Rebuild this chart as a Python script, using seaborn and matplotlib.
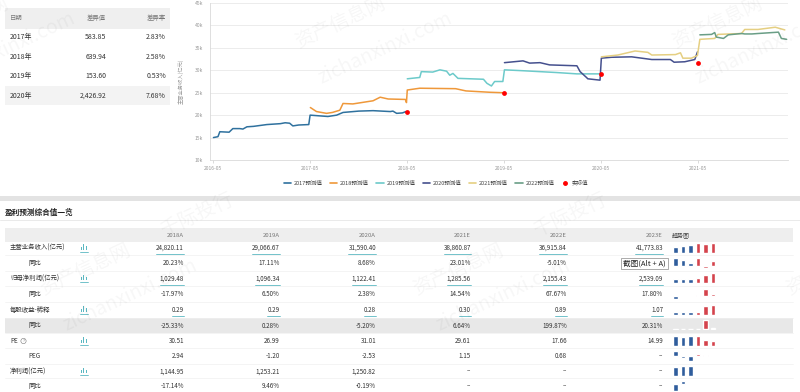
"""
盈利预测页面截图复刻: 主营业务收入预测走势 + 盈利预测综合值一览
"""

import pandas as pd
import matplotlib
matplotlib.use("Agg")
import matplotlib.pyplot as plt
import matplotlib.dates as mdates
from matplotlib.lines import Line2D
from matplotlib.patches import Rectangle
import seaborn as sns

sns.set_theme(style="white")
plt.rcParams['font.family'] = ['Noto Sans CJK SC', 'DejaVu Sans']

# 左上角差异表
diff_years = ["2017年", "2018年", "2019年", "2020年"]
diff_values = ["583.85", "639.94", "153.60", "2,426.92"]
diff_rates = ["2.83%", "2.58%", "0.53%", "7.68%"]

# 各年度预测值走势 (亿元)
fc2017_dates = ["2016-05-03", "2016-05-20", "2016-05-27", "2016-07-01", "2016-07-15", "2016-08-10",
                "2016-08-22", "2016-09-06", "2016-10-01", "2016-11-20", "2017-01-10", "2017-01-28",
                "2017-02-14", "2017-02-26", "2017-03-20", "2017-04-27", "2017-05-02", "2017-07-08",
                "2017-08-10", "2017-09-03", "2017-11-01", "2017-12-25", "2018-02-28", "2018-03-10",
                "2018-03-24", "2018-04-15", "2018-04-28"]
fc2017_vals = [15000, 15200, 16300, 16200, 17000, 17000, 16900, 17400, 17500, 17900, 18100, 18300,
               18200, 17600, 17800, 17900, 20000, 19700, 20000, 20600, 20900, 21000, 20800, 20900,
               20400, 20500, 20800]

fc2018_dates = ["2017-05-03", "2017-05-26", "2017-07-03", "2017-07-25", "2017-08-22", "2017-09-03",
                "2017-10-10", "2017-12-25", "2018-01-21", "2018-02-20", "2018-04-26", "2018-04-30",
                "2018-05-03", "2018-06-19", "2018-11-01", "2018-12-10", "2019-03-10", "2019-04-28"]
fc2018_vals = [21700, 20800, 20400, 20600, 21100, 22600, 22500, 23200, 24000, 23600, 23500, 22800,
               25600, 26000, 25900, 25400, 25100, 25000]

fc2019_dates = ["2018-05-03", "2018-06-19", "2018-06-25", "2018-08-07", "2018-09-03", "2018-09-28",
                "2018-10-10", "2018-10-22", "2018-11-10", "2019-02-14", "2019-02-27", "2019-03-16",
                "2019-03-28", "2019-04-28", "2019-05-04", "2019-07-13", "2019-11-16", "2020-02-01",
                "2020-04-28"]
fc2019_vals = [28100, 28400, 29700, 29600, 30100, 29800, 28900, 29300, 28200, 28000, 27100, 26500,
               27500, 27500, 30100, 29900, 29500, 29200, 29200]

fc2020_dates = ["2019-05-04", "2019-07-13", "2019-08-07", "2019-09-15", "2019-10-21", "2020-02-01",
                "2020-02-13", "2020-03-08", "2020-03-13", "2020-04-28", "2020-05-03", "2020-06-10",
                "2020-08-25", "2020-11-09", "2021-01-18", "2021-02-01", "2021-03-13", "2021-04-20",
                "2021-04-30"]
fc2020_vals = [31700, 32100, 31600, 31700, 31200, 31000, 29700, 28400, 28100, 27800, 32700, 32900,
               33000, 32400, 32400, 31800, 31900, 32400, 34100]

fc2021_dates = ["2020-05-03", "2020-07-04", "2020-09-07", "2020-10-25", "2020-11-09", "2021-02-06",
                "2021-02-25", "2021-03-06", "2021-04-07", "2021-04-30", "2021-05-09", "2021-07-04",
                "2021-07-16", "2021-10-13", "2021-10-25", "2021-12-14", "2022-02-17", "2022-03-25"]
fc2021_vals = [33000, 33400, 34300, 34000, 33400, 33500, 33900, 32700, 32700, 33300, 36900, 37100,
               38000, 38200, 39100, 39100, 39600, 39000]

fc2022_dates = ["2021-05-09", "2021-06-22", "2021-07-04", "2021-07-10", "2021-08-06", "2021-08-24",
                "2021-10-13", "2021-10-25", "2021-11-21", "2021-12-14", "2022-03-01", "2022-03-12",
                "2022-04-01"]
fc2022_vals = [37900, 38000, 38400, 37400, 37100, 37900, 38200, 38100, 38100, 38200, 38500, 37100,
               36900]

actual_dates = ["2018-05-01", "2019-05-01", "2020-05-01", "2021-05-01"]
actual_vals = [20700, 24900, 29200, 31700]

series_names = ["2017预测值", "2018预测值", "2019预测值", "2020预测值", "2021预测值", "2022预测值"]
series_colors = ["#2f719e", "#ef983a", "#6ccaca", "#45508e", "#e5cf82", "#6a9e86"]
x_ticks = ["2016-05", "2017-05", "2018-05", "2019-05", "2020-05", "2021-05"]
y_ticks = [10000, 15000, 20000, 25000, 30000, 35000, 40000, 45000]

# 盈利预测综合值一览
periods = ["2018A", "2019A", "2020A", "2021E", "2022E", "2023E"]
revenue = [24820.11, 29066.67, 31590.40, 38860.87, 36915.84, 41773.83]
revenue_yoy = [20.23, 17.11, 8.68, 23.01, -5.01, 13.16]
net_profit = [1029.48, 1096.34, 1122.41, 1285.56, 2155.43, 2539.09]
net_profit_yoy = [-17.97, 6.50, 2.38, 14.54, 67.67, 17.80]
eps = [0.29, 0.29, 0.28, 0.30, 0.89, 1.07]
eps_yoy = [-25.33, 0.28, -5.20, 6.64, 199.87, 20.31]
pe = [30.51, 26.99, 31.01, 29.61, 17.66, 14.99]
peg = [2.94, -1.20, -2.53, 1.15, 0.68, None]
profit = [1144.95, 1253.21, 1250.82, None, None, None]
profit_yoy = [-17.14, 9.46, -0.19, None, None, None]

row_names = ["主营业务收入(亿元)", "同比", "归母净利润(亿元)", "同比", "每股收益-稀释", "同比",
             "PE", "PEG", "净利润(亿元)", "同比"]
row_data = [revenue, revenue_yoy, net_profit, net_profit_yoy, eps, eps_yoy, pe, peg, profit, profit_yoy]
row_pct = [False, True, False, True, False, True, False, False, False, True]


def fx(x):
    return x / 800


def fy(y):
    return 1 - y / 392


fig = plt.figure(figsize=(8, 3.92), dpi=100)
fig.patch.set_facecolor("white")

# 背景层 (像素坐标)
bg = fig.add_axes([0, 0, 1, 1])
bg.set_xlim(0, 800)
bg.set_ylim(392, 0)
bg.axis("off")

text_dark = "#333333"
text_gray = "#777777"

# 左上表格
bg.add_patch(Rectangle((5, 8), 165, 21, color="#efefef", lw=0))
bg.add_patch(Rectangle((5, 86), 165, 19, color="#f3f3f3", lw=0))
bg.text(10, 18, "日期", fontsize=4.6, color=text_gray, va="center")
bg.text(106, 18, "差异值", fontsize=4.6, color=text_gray, va="center", ha="right")
bg.text(166, 18, "差异率", fontsize=4.6, color=text_gray, va="center", ha="right")
for i, (yr, dv, dr) in enumerate(zip(diff_years, diff_values, diff_rates)):
    yy = 37 + i * 19.6
    bg.text(10, yy, yr, fontsize=5, color=text_dark, va="center")
    bg.text(106, yy, dv, fontsize=5, color=text_dark, va="center", ha="right")
    bg.text(166, yy, dr, fontsize=5, color=text_dark, va="center", ha="right")

# 分隔条
bg.add_patch(Rectangle((0, 196), 800, 5, color="#e3e3e3", lw=0))
bg.plot([0, 800], [220, 220], color="#e6e6e6", lw=0.6)

# 走势图
ax = fig.add_axes([fx(210), fy(160), 578 / 800, 157 / 392])
ax.set_facecolor("none")

frames = []
for name, d, v in zip(series_names,
                      [fc2017_dates, fc2018_dates, fc2019_dates, fc2020_dates, fc2021_dates, fc2022_dates],
                      [fc2017_vals, fc2018_vals, fc2019_vals, fc2020_vals, fc2021_vals, fc2022_vals]):
    frames.append(pd.DataFrame({"date": pd.to_datetime(d), "value": v, "series": name}))
df = pd.concat(frames, ignore_index=True)

sns.lineplot(data=df, x="date", y="value", hue="series", palette=dict(zip(series_names, series_colors)),
             estimator=None, sort=False, linewidth=1.1, ax=ax, legend=False)
sns.scatterplot(x=pd.to_datetime(actual_dates), y=actual_vals, color="#ff0000", s=12, linewidth=0,
                ax=ax, zorder=5)

ax.set_xlim(pd.Timestamp("2016-04-20"), pd.Timestamp("2022-04-06"))
ax.set_ylim(10000, 45000)
ax.set_yticks(y_ticks)
ax.set_yticklabels([f"{v // 1000}k" for v in y_ticks])
ax.set_xticks(pd.to_datetime(x_ticks))
ax.xaxis.set_major_formatter(mdates.DateFormatter("%Y-%m"))
ax.grid(axis="y", color="#e9e9e9", lw=0.6)
ax.tick_params(axis="x", labelsize=3.6, colors="#cccccc", labelcolor="#999999", length=2.5, width=0.5, pad=2, bottom=True)
ax.tick_params(axis="y", labelsize=3.6, labelcolor="#999999", length=0, pad=5)
ax.set_xlabel("")
ax.set_ylabel("主营业务收入(亿元)", fontsize=3.8, color="#999999")
ax.yaxis.set_label_coords(-0.045, 0.5)
for s in ["top", "right"]:
    ax.spines[s].set_visible(False)
for s in ["left", "bottom"]:
    ax.spines[s].set_color("#d9d9d9")
    ax.spines[s].set_linewidth(0.6)

handles = [Line2D([], [], color=c, lw=1.2) for c in series_colors]
handles.append(Line2D([], [], color="#ff0000", marker="o", lw=0, markersize=2.5))
fig.legend(handles, series_names + ["实际值"], loc="center", bbox_to_anchor=(fx(436), fy(183)),
           ncol=7, frameon=False, fontsize=4, handlelength=1.3, columnspacing=1.35, handletextpad=0.5,
           labelcolor="#444444")

# 盈利预测综合值一览
bg.text(5, 212, "盈利预测综合值一览", fontsize=5.5, fontweight="bold", color="#222222", va="center")
bg.add_patch(Rectangle((5, 228), 788, 14, color="#eeeeee", lw=0))
col_right = [184, 279.5, 376, 471, 567, 663]
for p, cx in zip(periods, col_right):
    bg.text(cx, 235, p, fontsize=4.3, color=text_gray, va="center", ha="right")
bg.text(671.5, 235, "趋势图", fontsize=4.3, color="#444444", va="center")

row_y = [248, 263, 278.5, 294, 310, 325.5, 341, 356, 371.5, 386]
row_indent = [False, True, False, True, False, True, False, True, False, True]
row_icon = [True, False, True, False, True, False, True, False, True, False]
row_underline = [True, False, True, False, True, False, False, False, False, False]

bg.add_patch(Rectangle((5, 318), 788, 15, color="#e8e8e8", lw=0))
for y in row_y[1:]:
    bg.plot([5, 793], [y - 7.7, y - 7.7], color="#f0f0f0", lw=0.5)

underline_texts = []
for name, vals, pct, y, ind, icon, ul in zip(row_names, row_data, row_pct, row_y, row_indent,
                                               row_icon, row_underline):
    bg.text(28 if ind else 10, y, name, fontsize=4.6, color=text_dark, va="center")
    if name == "PE":
        bg.text(23.5, y, "?", fontsize=3, color=text_gray, va="center", ha="center",
                bbox=dict(boxstyle="circle,pad=0.15", fc="none", ec=text_gray, lw=0.4))
    if icon:
        for bx, bh in zip([81, 83.3, 85.6], [3, 5.5, 3.5]):
            bg.add_patch(Rectangle((bx, y + 1.5 - bh), 1.1, bh, color="#5bb8c2", lw=0))
        bg.plot([80, 88], [y + 3.5, y + 3.5], color="#5bb8c2", lw=0.6)
    for v, cx in zip(vals, col_right):
        if v is None:
            s = "--"
        else:
            s = f"{v:,.2f}" + ("%" if pct else "")
        t = bg.text(cx, y, s, fontsize=4.5, color=text_dark, va="center", ha="right")
        if ul and v is not None:
            underline_texts.append((t, y))

    # 趋势小柱图
    present = [(i, v) for i, v in enumerate(vals) if v is not None]
    if present:
        sx = fig.add_axes([fx(671.5), fy(y + 4.5), 45 / 800, 10 / 392])
        sx.set_facecolor("none")
        xs = [i for i, _ in present]
        hs = [v for _, v in present]
        sx.bar(xs, hs, width=0.6, color=["#2f5d9c" if i < 3 else "#d4434c" for i in xs])
        sx.set_xlim(-0.5, 5.5)
        sx.set_ylim(min(0, min(hs)), max(0, max(hs)))
        sx.axis("off")

fig.canvas.draw()
inv = bg.transData.inverted()
for t, y in underline_texts:
    ext = t.get_window_extent()
    (x0, _), (x1, _) = inv.transform([(ext.x0, ext.y0), (ext.x1, ext.y0)])
    bg.plot([x0, x1], [y + 6, y + 6], color="#5bb8c2", lw=0.6)

# 截图提示框
fig.text(fx(623), fy(263.5), "截图(Alt + A)", fontsize=5.5, color="#222222", va="center",
         bbox=dict(boxstyle="square,pad=0.25", fc="white", ec="#8a8a8a", lw=0.5))

# 水印
for cx, cy in [(-37, 23), (340, 23), (717, 23), (85, 270), (458, 270), (831, 270)]:
    fig.text(fx(cx), fy(cy), "资产信息网", fontsize=14, color="#000000", alpha=0.035,
             rotation=25, ha="center", va="center")
    fig.text(fx(cx + 112), fy(cy - 55), "千际投行", fontsize=14, color="#000000", alpha=0.035,
             rotation=25, ha="center", va="center")
    fig.text(fx(cx + 45), fy(cy + 25), "zichanxinxi.com", fontsize=14, color="#000000", alpha=0.035,
             rotation=25, ha="center", va="center")

fig.savefig("out.png", dpi=100, facecolor="white")
plt.close(fig)
